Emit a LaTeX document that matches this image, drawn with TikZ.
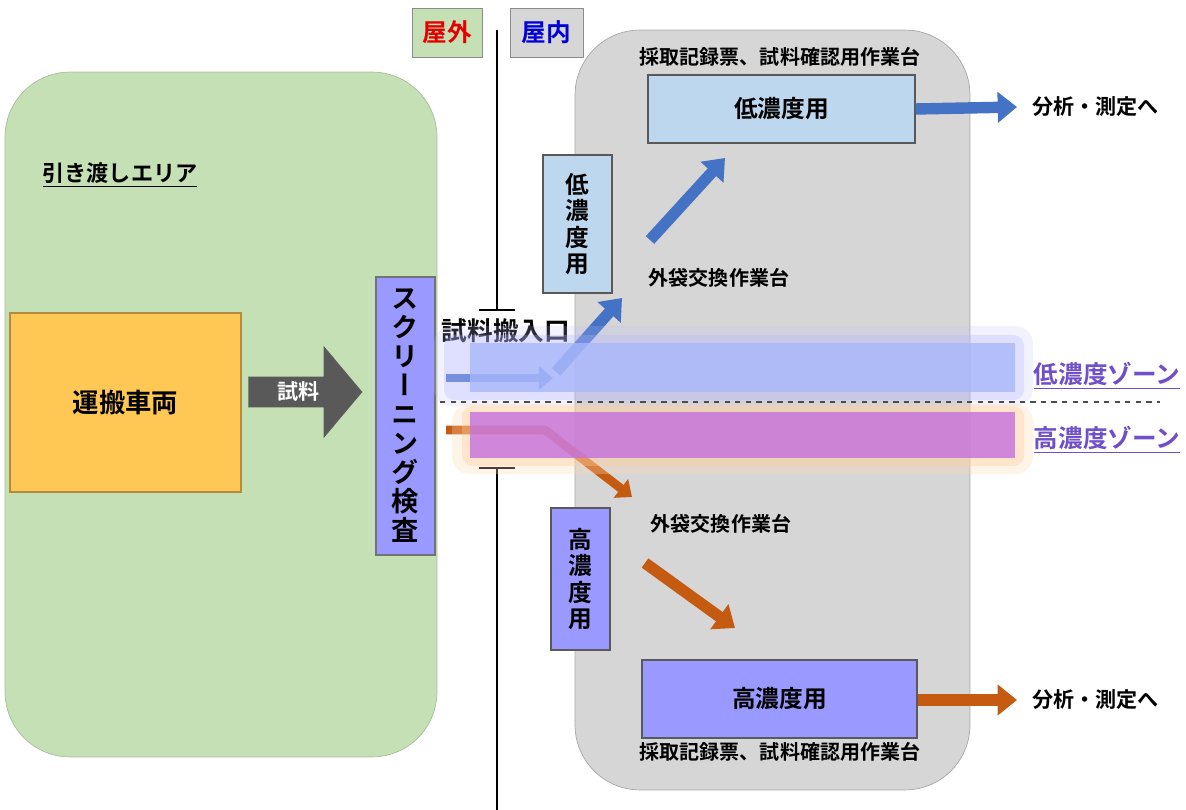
\documentclass[tikz,border=0pt]{standalone}
\usepackage{fontspec}
\setmainfont{Noto Sans CJK JP}[BoldFont={* Bold}]
\newfontfamily\tatefont{Noto Sans CJK JP}[BoldFont={* Bold}, RawFeature=+vert]
\usetikzlibrary{positioning, shapes.arrows, arrows.meta}
\definecolor{areagreen}{RGB}{197,224,180}
\definecolor{roomgray}{RGB}{214,214,214}
\definecolor{lowblue}{RGB}{189,215,238}
\definecolor{highviolet}{RGB}{153,153,255}
\definecolor{truckgold}{RGB}{255,200,85}
\definecolor{arrblue}{RGB}{68,114,196}
\definecolor{arrorange}{RGB}{197,90,17}
\definecolor{zonetext}{RGB}{112,80,200}
\definecolor{zonelow}{RGB}{168,184,250}
\definecolor{zonehigh}{RGB}{196,112,222}
\tikzset{
  lbl/.style={font=\bfseries\fontsize{12}{14}\selectfont, inner sep=1pt},
  small/.style={font=\bfseries\fontsize{11.4}{13}\selectfont, inner sep=1pt},
  workbox/.style={draw=black!65, line width=0.8pt, font=\bfseries\fontsize{13.5}{15}\selectfont, inner sep=0pt},
  tatebox/.style={workbox, align=center, font=\tatefont\bfseries\fontsize{13.5}{15}\selectfont},
  bluearr/.style={draw=arrblue, line width=6.5pt, -{Triangle[length=11pt,width=17pt]}},
  orangearr/.style={draw=arrorange, line width=6.5pt, -{Triangle[length=11pt,width=17pt]}},
  gatearr/.style={line width=5pt, -{Triangle[length=8pt,width=13pt]}},
  zonelbl/.style={font=\bfseries\fontsize{14}{16}\selectfont, text=zonetext, inner sep=1pt}
}

\begin{document}
\begin{tikzpicture}[x=0.02cm, y=-0.02cm]
	\useasboundingbox (0,0) rectangle (1186,810);
	% outdoor hand-over area
	\node[fill=areagreen, draw=areagreen!85!black, rounded corners=1.3cm, minimum width=8.64cm, minimum height=13.7cm] (handover) at (221,414.5) {};
	\node[lbl, font=\bfseries\fontsize{12.6}{14}\selectfont] (handtitle) at (120,175) {\underline{引き渡しエリア}};
	\node[workbox, fill=truckgold, draw=truckgold!70!black, minimum width=4.62cm, minimum height=3.58cm, font=\bfseries\fontsize{15}{17}\selectfont] (truck) at (125.5,402.5) {運搬車両};
	\node[single arrow, fill=black!65, text=white, font=\bfseries\fontsize{12}{14}\selectfont, minimum height=2.28cm, inner ysep=0.1cm, inner xsep=2pt, single arrow head extend=0.62cm, single arrow tip angle=100, anchor=tail] (sample) at (248,392) {試料};
	\node[tatebox, fill=highviolet, draw=black!55, minimum width=1.18cm, minimum height=5.56cm, font=\tatefont\bfseries\fontsize{15.5}{16.5}\selectfont] (screening) at (405.5,416) {ス\\ク\\リ\\ー\\ニ\\ン\\グ\\検\\査};

	% wall between outdoors and indoors
	\draw[line width=1pt] (497,30) -- (497,310);
	\draw[line width=1pt] (479,310) -- (515,310);
	\draw[line width=1pt] (479,468) -- (515,468);
	\draw[line width=1pt] (497,468) -- (497,810);
	\node[lbl, fill=areagreen, draw=black!45, text=red!90!black, minimum width=1.4cm, minimum height=0.98cm, font=\bfseries\fontsize{14}{16}\selectfont] (outside) at (447,32.5) {屋外};
	\node[lbl, fill=roomgray, draw=black!45, text=blue!85!black, minimum width=1.46cm, minimum height=0.98cm, font=\bfseries\fontsize{14}{16}\selectfont] (inside) at (546.5,32.5) {屋内};
	\node[lbl, font=\bfseries\fontsize{14.6}{16}\selectfont] (entrance) at (506,331) {試料搬入口};

	% indoor work room
	\node[fill=roomgray, draw=black!35, rounded corners=1.3cm, minimum width=7.9cm, minimum height=15.2cm] (room) at (772.5,410) {};
	\node[small] (lowdesk) at (780,57) {採取記録票、試料確認用作業台};
	\node[workbox, fill=lowblue, minimum width=5.34cm, minimum height=1.36cm] (lowbox) at (781.5,109) {低濃度用};
	\node[tatebox, fill=lowblue, minimum width=1.38cm, minimum height=2.76cm] (lowbag) at (577.5,224) {低\\濃\\度\\用};
	\node[small] (lowbagdesk) at (719,278) {外袋交換作業台};
	\node[tatebox, fill=highviolet, minimum width=1.18cm, minimum height=2.84cm] (highbag) at (580.5,579) {高\\濃\\度\\用};
	\node[small] (highbagdesk) at (721,524) {外袋交換作業台};
	\node[workbox, fill=highviolet, minimum width=5.5cm, minimum height=1.56cm] (highbox) at (779.5,699) {高濃度用};
	\node[small] (highdesk) at (780,752) {採取記録票、試料確認用作業台};

	% to analysis
	\node[lbl, anchor=west] (lowana) at (1030,107) {分析・測定へ};
	\node[lbl, anchor=west] (highana) at (1030,700) {分析・測定へ};
	\draw[bluearr] (lowbox.east) -- ([xshift=-0.26cm]lowana.west);
	\draw[orangearr] (highbox.east |- highana.west) -- ([xshift=-0.26cm]highana.west);

	% sample flow
	\coordinate (lowin) at (446,378);
	\coordinate (lowgate) at (553,378);
	\coordinate (lowup1) at (556,372);
	\coordinate (lowup2) at (622,298);
	\coordinate (lowd1) at (650,240);
	\coordinate (lowd2) at (725,158);
	\coordinate (highin) at (446,430);
	\coordinate (highgate) at (545,430);
	\coordinate (highdn) at (632,497);
	\coordinate (highd1) at (645,563);
	\coordinate (highd2) at (735,628);
	\draw[gatearr, draw=arrblue] (lowin) -- (lowgate);
	\draw[bluearr] (lowup1) -- (lowup2);
	\draw[bluearr] (lowd1) -- (lowd2);
	\draw[gatearr, draw=arrorange, line join=round] (highin) -- (highgate) -- (highdn);
	\draw[orangearr] (highd1) -- (highd2);

	% zones
	\fill[blue!25, opacity=0.2, rounded corners=10pt] (434,326) rectangle (1033,406);
	\fill[blue!30, opacity=0.3, rounded corners=6pt] (444,335) rectangle (1024,400);
	\fill[zonelow, opacity=0.8] (470,343) rectangle (1015,392);
	\fill[orange!30, opacity=0.3, rounded corners=10pt] (452,404) rectangle (1033,474);
	\fill[orange!40, opacity=0.35, rounded corners=6pt] (462,406) rectangle (1024,466);
	\fill[zonehigh, opacity=0.8] (470,412) rectangle (1015,458);
	\draw[dashed, line width=0.8pt, black!70] (440,402) -- (1160,402);
	\node[zonelbl] (lowzone) at (1107,376) {\underline{低濃度ゾーン}};
	\node[zonelbl] (highzone) at (1107,440) {\underline{高濃度ゾーン}};
\end{tikzpicture}
\end{document}
